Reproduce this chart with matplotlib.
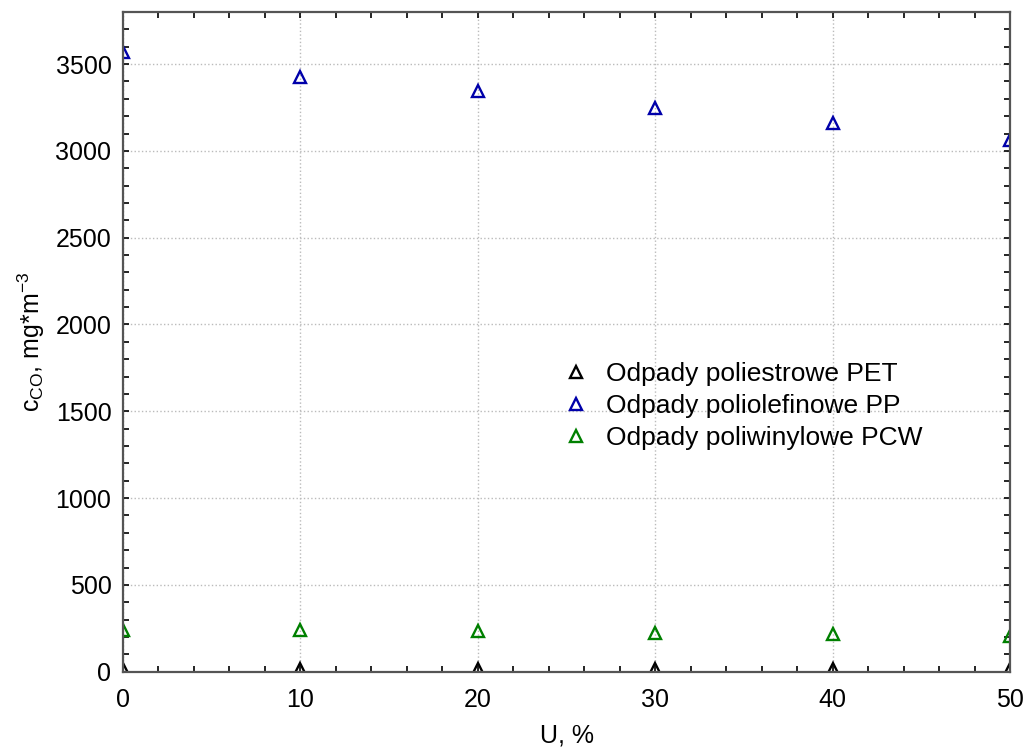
import matplotlib
matplotlib.use("Agg")
import matplotlib.pyplot as plt
from matplotlib.ticker import MultipleLocator

plt.rcParams['font.family'] = ['Liberation Sans', 'DejaVu Sans']
plt.rcParams['mathtext.fontset'] = 'custom'
plt.rcParams['mathtext.rm'] = 'Liberation Sans'
plt.rcParams['mathtext.it'] = 'Liberation Sans'
plt.rcParams['mathtext.default'] = 'regular'

U = [0, 10, 20, 30, 40, 50]
pet = [18, 18, 18, 18, 18, 18]
pp = [3570, 3425, 3345, 3245, 3160, 3065]
pcw = [240, 240, 236, 225, 217, 205]

labels = ["Odpady poliestrowe PET", "Odpady poliolefinowe PP", "Odpady poliwinylowe PCW"]
colors = ["#000000", "#0000AA", "#008000"]

fig = plt.figure(figsize=(10.30, 7.51), dpi=100)
ax = fig.add_axes([0.119, 0.1056, 0.862, 0.8784])

for y, lab, c in zip([pet, pp, pcw], labels, colors):
    ax.plot(U, y, linestyle='none', marker='^', markersize=9, markerfacecolor='none',
            markeredgecolor=c, markeredgewidth=1.7, label=lab)

ax.set_xlim(0, 50)
ax.set_ylim(0, 3800)
ax.xaxis.set_major_locator(MultipleLocator(10))
ax.xaxis.set_minor_locator(MultipleLocator(2))
ax.yaxis.set_major_locator(MultipleLocator(500))
ax.yaxis.set_minor_locator(MultipleLocator(100))
ax.tick_params(which='both', direction='in', top=True, right=True, labelsize=18, colors='black')
ax.tick_params(which='major', length=4, width=1.2)
ax.tick_params(which='minor', length=4, width=1.2)
ax.tick_params(axis='x', pad=12)
ax.tick_params(axis='y', pad=8)
ax.grid(True, which='major', linestyle=':', color='#bbbbbb', linewidth=1)
for s in ax.spines.values():
    s.set_color('#555555')
    s.set_linewidth(1.6)

ax.set_xlabel("U, %", fontsize=18, labelpad=8)
ax.set_ylabel("c$_{CO}$, mg*m$^{-3}$", fontsize=18, labelpad=6)

leg = ax.legend(loc='upper left', bbox_to_anchor=(0.482, 0.485), frameon=False, fontsize=19,
                handletextpad=0.6, labelspacing=0.3, handlelength=1.1, borderaxespad=0)

fig.savefig("out.png", dpi=100)
